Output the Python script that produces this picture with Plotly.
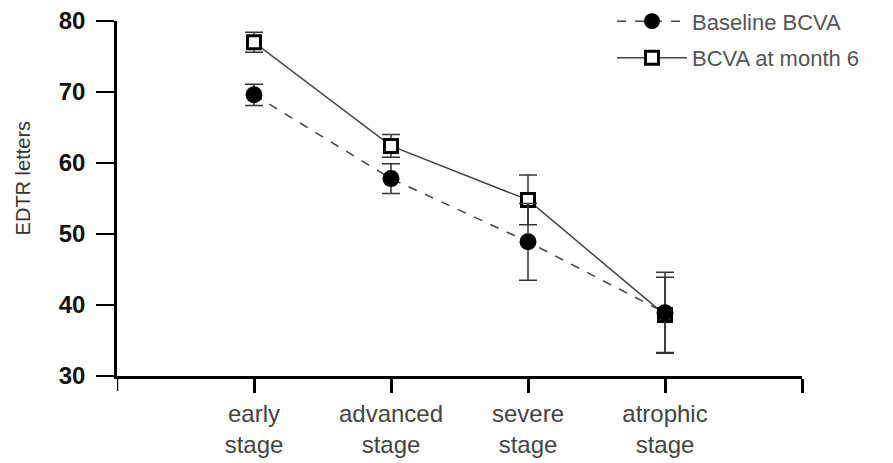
import plotly.graph_objects as go

categories = ["early<br>stage", "advanced<br>stage", "severe<br>stage", "atrophic<br>stage"]
x_pos = [0, 1, 2, 3]

baseline = [69.6, 57.8, 48.9, 38.9]
baseline_err = [1.5, 2.1, 5.4, 5.7]

month6 = [77.0, 62.4, 54.8, 38.6]
month6_err = [1.4, 1.6, 3.5, 5.3]

y_ticks = [30, 40, 50, 60, 70, 80]

FONT = "Liberation Sans, Arial"

fig = go.Figure()

fig.add_trace(go.Scatter(
    x=x_pos, y=month6, name="BCVA at month 6", mode="lines+markers",
    line=dict(color="#444444", width=1.5),
    marker=dict(symbol="square", size=13, color="white",
                line=dict(color="black", width=3)),
    error_y=dict(type="data", array=month6_err, visible=True,
                 color="#333333", thickness=1.5, width=9),
    legendrank=2, legendgroup="b",
))
fig.add_trace(go.Scatter(
    x=x_pos, y=baseline, name="Baseline BCVA", mode="lines+markers",
    line=dict(color="#444444", width=1.5, dash="dash"),
    marker=dict(symbol="circle", size=17, color="black"),
    error_y=dict(type="data", array=baseline_err, visible=True,
                 color="#333333", thickness=1.5, width=9),
    legendrank=1, legendgroup="a",
))

# y axis extends slightly below the x axis
fig.add_shape(type="line", xref="x", yref="paper", x0=-1, x1=-1, y0=0, y1=-0.042,
              line=dict(color="black", width=2.5))

fig.add_annotation(text="EDTR letters", xref="paper", yref="paper",
                   x=-0.138, y=0.558, xanchor="center", yanchor="middle",
                   textangle=-90, showarrow=False,
                   font=dict(family=FONT, size=20, color="#333333"))

fig.update_layout(
    width=893, height=463,
    margin=dict(l=117, r=91, t=21, b=87, autoexpand=False),
    paper_bgcolor="white", plot_bgcolor="white",
    showlegend=True,
    legend=dict(x=0.7226, y=1.058, xanchor="left", yanchor="top",
                font=dict(family=FONT, size=22, color="#555555"),
                traceorder="grouped", tracegroupgap=5, itemwidth=70,
                bgcolor="rgba(0,0,0,0)"),
    xaxis=dict(range=[-1, 4], tickvals=x_pos + [4], ticktext=categories + [""],
               showline=True, linecolor="black", linewidth=2.5,
               ticks="outside", ticklen=14, tickwidth=2.5, tickcolor="black",
               showgrid=False, zeroline=False, automargin=False,
               tickfont=dict(family=FONT, size=24, color="#444444")),
    yaxis=dict(range=[30, 80], tickvals=y_ticks,
               showline=True, linecolor="black", linewidth=2.5,
               ticks="outside", ticklen=18, tickwidth=2, tickcolor="black",
               showgrid=False, zeroline=False, ticklabelstandoff=6, automargin=False,
               tickfont=dict(family=FONT, size=24, color="#111111",
                             weight="bold")),
)

fig.write_html("out.html")
